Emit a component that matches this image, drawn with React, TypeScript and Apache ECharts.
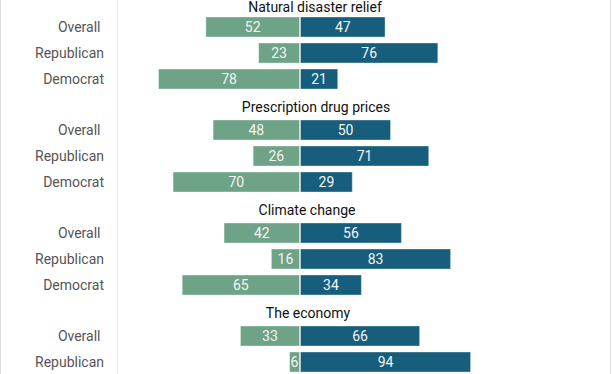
import React, { useEffect, useRef } from "react";
import * as echarts from "echarts";

const groups = ["Natural disaster relief", "Prescription drug prices", "Climate change", "The economy"];
const rows = ["Overall ", "Republican", "Democrat"];
// The economy's Democrat row lies below the visible area in the reference
const rowsShown = [3, 3, 3, 2];
const greenValues: number[][] = [
  [52, 23, 78],
  [48, 26, 70],
  [42, 16, 65],
  [33, 6],
];
const blueValues: number[][] = [
  [47, 76, 21],
  [50, 71, 29],
  [56, 83, 34],
  [66, 94],
];
const titleCenters = [315, 316, 307, 308];
const titleYs = [7, 107, 210, 313];
const gridTops = [14, 117, 220, 323];

const GREEN = "#6ea387";
const BLUE = "#175e7c";
const FONT = "Roboto";

export default function App() {
  const ref = useRef<HTMLDivElement>(null);
  useEffect(() => {
    if (!ref.current) return;
    const chart = echarts.init(ref.current, null, { renderer: "svg" });
    const grid: any[] = [];
    const xAxis: any[] = [];
    const yAxis: any[] = [];
    const series: any[] = [];
    groups.forEach((g, i) => {
      const n = rowsShown[i];
      grid.push({ left: 118, width: 364, top: gridTops[i], height: 26 * n, containLabel: false });
      xAxis.push({
        gridIndex: i, type: "value", min: -100, max: 100, show: false,
      });
      yAxis.push({
        gridIndex: i, type: "category", data: rows.slice(0, n), inverse: true,
        axisLine: { show: false }, axisTick: { show: false }, splitLine: { show: false },
        axisLabel: { color: "#555", fontSize: 14, fontFamily: FONT, margin: 14, interval: 0 },
      });
      series.push({
        type: "bar", xAxisIndex: i, yAxisIndex: i, stack: "s" + i,
        data: greenValues[i].map((v) => -v),
        barWidth: 21,
        itemStyle: { color: GREEN, borderColor: "rgba(255,255,255,0.35)", borderWidth: 1 },
        label: {
          show: true, position: "inside", color: "#f4f4f4", fontSize: 14, fontFamily: FONT,
          formatter: (p: any) => String(Math.abs(p.value)),
        },
      });
      series.push({
        type: "bar", xAxisIndex: i, yAxisIndex: i, stack: "s" + i,
        data: blueValues[i],
        barWidth: 21,
        itemStyle: { color: BLUE, borderColor: "rgba(255,255,255,0.35)", borderWidth: 1 },
        label: {
          show: true, position: "inside", color: "#f4f4f4", fontSize: 14, fontFamily: FONT,
        },
      });
    });
    const graphic: any[] = [
      { type: "line", shape: { x1: 0.5, y1: 0, x2: 0.5, y2: 410 }, style: { stroke: "#dcdcdc", lineWidth: 1 } },
      { type: "line", shape: { x1: 610.5, y1: 0, x2: 610.5, y2: 410 }, style: { stroke: "#dcdcdc", lineWidth: 1 } },
      { type: "line", shape: { x1: 117.5, y1: 0, x2: 117.5, y2: 410 }, style: { stroke: "#ebebeb", lineWidth: 1 } },
    ];
    groups.forEach((g, i) => {
      graphic.push({
        type: "text", x: titleCenters[i], y: titleYs[i],
        style: { text: g, textAlign: "center", textVerticalAlign: "middle", fill: "#111", font: `14px ${FONT}` },
      });
    });
    chart.setOption({
      animation: false,
      backgroundColor: "#fff",
      grid, xAxis, yAxis, series, graphic,
    });
    return () => chart.dispose();
  }, []);
  return (
    <div style={{ position: "absolute", left: 0, top: 0, width: 612, height: 374, overflow: "hidden" }}>
      <div ref={ref} style={{ width: 612, height: 410 }} />
    </div>
  );
}
